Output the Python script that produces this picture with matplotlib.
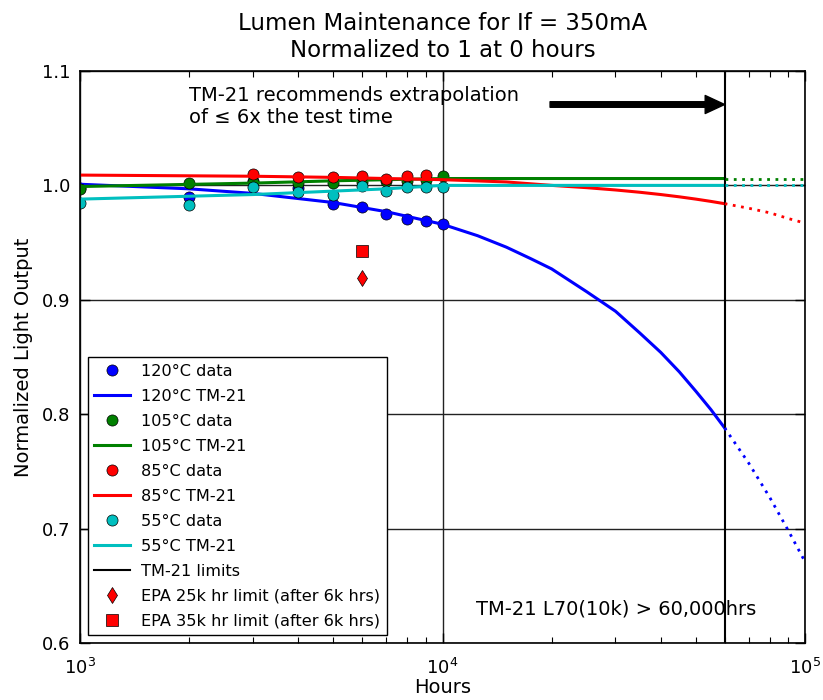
import numpy as np
import matplotlib.pyplot as plt

plt.rcParams['font.family'] = 'DejaVu Sans'
plt.rcParams['font.size'] = 14

# measured hours
data_hours = [1000, 2000, 3000, 4000, 5000, 6000, 7000, 8000, 9000, 10000]
hours_85 = [3000, 4000, 5000, 6000, 7000, 8000, 9000]

# normalized light output
data_120 = [0.998, 0.990, 1.004, 0.998, 0.984, 0.981, 0.975, 0.971, 0.969, 0.966]
data_105 = [0.997, 1.002, 1.003, 1.002, 1.002, 1.003, 1.004, 1.004, 1.005, 1.008]
data_85 = [1.010, 1.007, 1.007, 1.008, 1.006, 1.008, 1.009]
data_55 = [0.985, 0.983, 0.9985, 0.9945, 0.992, 0.9995, 0.995, 0.9985, 0.999, 0.9985]

# TM-21 curves, solid part (up to the 6x limit)
fit_hours_120 = [1000, 2000, 3000, 5000, 7000, 10000, 12500, 15000, 17500, 20000, 25000,
                 30000, 35000, 40000, 45000, 50000, 55000, 60000]
fit_120 = [1.001, 0.997, 0.993, 0.985, 0.977, 0.966, 0.956, 0.946, 0.936, 0.927, 0.907,
           0.890, 0.871, 0.854, 0.837, 0.820, 0.804, 0.788]
fit_hours_105 = [1000, 3000, 5000, 10000, 60000]
fit_105 = [0.999, 1.002, 1.004, 1.006, 1.006]
fit_hours_85 = [1000, 3000, 5000, 7000, 10000, 15000, 20000, 25000, 30000, 35000, 40000,
                45000, 50000, 55000, 60000]
fit_85 = [1.009, 1.008, 1.007, 1.006, 1.005, 1.003, 1.000, 0.998, 0.996, 0.994, 0.992,
          0.990, 0.988, 0.986, 0.984]
fit_hours_55 = [1000, 3000, 5000, 7000, 10000, 60000]
fit_55 = [0.988, 0.992, 0.995, 0.997, 1.000, 1.000]

# TM-21 curves, dotted part (beyond the limit)
ext_hours = [60000, 70000, 80000, 90000, 100000]
ext_120 = [0.788, 0.757, 0.727, 0.698, 0.671]
ext_105 = [1.006, 1.006, 1.006, 1.006, 1.006]
ext_85 = [0.984, 0.980, 0.976, 0.971, 0.967]
ext_55 = [1.000, 1.000, 1.000, 1.000, 1.000]

# EPA limits
epa_hours = [6000]
epa_25k = [0.919]
epa_35k = [0.943]

tm21_limit = 60000

blue = '#0000ff'
green = '#008000'
red = '#ff0000'
cyan = '#00bfbf'

fig = plt.figure(figsize=(8.23, 7.0), dpi=100)
ax = fig.add_axes([0.0972, 0.0814, 0.881, 0.8172])
ax.set_xscale('log')

mk = dict(marker='o', ls='none', ms=8, mec='k', mew=0.5)
dot = (0, (1, 2))

ax.plot(data_hours, data_120, color=blue, label='120°C data', **mk)
ax.plot(fit_hours_120, fit_120, color=blue, lw=2.2, label='120°C TM-21')
ax.plot(data_hours, data_105, color=green, label='105°C data', **mk)
ax.plot(fit_hours_105, fit_105, color=green, lw=2.2, label='105°C TM-21')
ax.plot(hours_85, data_85, color=red, label='85°C data', **mk)
ax.plot(fit_hours_85, fit_85, color=red, lw=2.2, label='85°C TM-21')
ax.plot(data_hours, data_55, color=cyan, label='55°C data', **mk)
ax.plot(fit_hours_55, fit_55, color=cyan, lw=2.2, label='55°C TM-21')
ax.axvline(tm21_limit, color='k', lw=1.5, label='TM-21 limits')
ax.plot(epa_hours, epa_25k, color=red, marker='d', ls='none', ms=8, mec='k', mew=0.5,
        label='EPA 25k hr limit (after 6k hrs)')
ax.plot(epa_hours, epa_35k, color=red, marker='s', ls='none', ms=8, mec='k', mew=0.5,
        label='EPA 35k hr limit (after 6k hrs)')

# extrapolation beyond the limit
ax.plot(ext_hours, ext_120, color=blue, lw=2, ls=dot)
ax.plot(ext_hours, ext_105, color=green, lw=2, ls=dot)
ax.plot(ext_hours, ext_85, color=red, lw=2, ls=dot)
ax.plot(ext_hours, ext_55, color=cyan, lw=2, ls=dot)

ax.set_xlim(1e3, 1e5)
ax.set_ylim(0.6, 1.1)
ax.set_yticks([0.6, 0.7, 0.8, 0.9, 1.0, 1.1])
ax.set_yticklabels(['0.6', '0.7', '0.8', '0.9', '1.0', '1.1'])
ax.grid(True, which='major', color='#222222', lw=1, ls='-')
ax.tick_params(which='both', direction='in', top=True, right=True, labelsize=13)
ax.tick_params(which='major', length=7, width=1)
ax.tick_params(which='minor', length=4, width=0.8)
ax.tick_params(axis='x', which='both', pad=11)
ax.tick_params(axis='y', which='both', pad=7)
for s in ax.spines.values():
    s.set_linewidth(1.2)

ax.set_title('Lumen Maintenance for If = 350mA\nNormalized to 1 at 0 hours',
             fontsize=16.5, pad=10)
ax.set_xlabel('Hours', fontsize=14, labelpad=0)
ax.set_ylabel('Normalized Light Output', fontsize=14, labelpad=6)

ax.text(2000, 1.069, 'TM-21 recommends extrapolation\nof ≤ 6x the test time',
        fontsize=14, va='center', ha='left')
ax.annotate('', xy=(tm21_limit, 1.0707), xytext=(19800, 1.0707),
            arrowprops=dict(facecolor='black', edgecolor='black', width=4,
                            headwidth=13, headlength=14, shrink=0))
ax.text(12400, 0.630, 'TM-21 L70(10k) > 60,000hrs', fontsize=14, va='center', ha='left')

leg = ax.legend(loc='lower left', fontsize=11.6, numpoints=1, handlelength=2.2,
                handletextpad=0.7, labelspacing=0.62, fancybox=False,
                framealpha=1, borderaxespad=0.5)
leg.get_frame().set_edgecolor('black')
leg.get_frame().set_linewidth(1)

fig.savefig('out.png', dpi=100)
